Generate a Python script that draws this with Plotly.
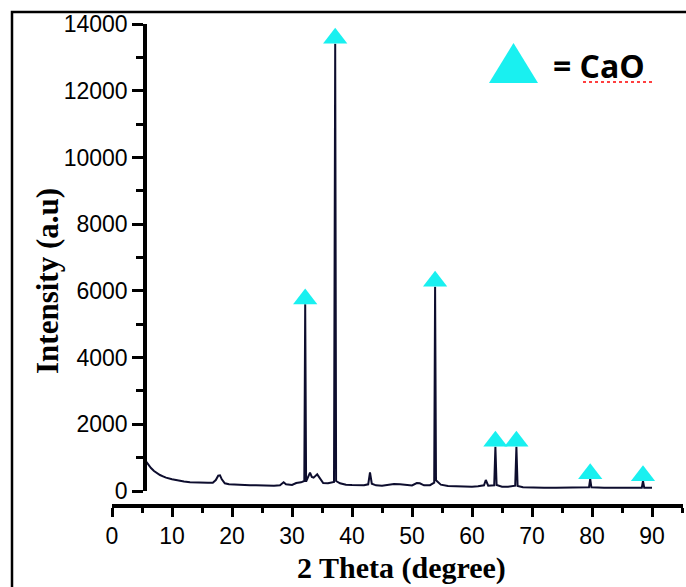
import plotly.graph_objects as go

W, H = 686, 587

# ---- data ----
two_theta = [5.2, 5.5, 6, 6.5, 7, 7.5, 8, 8.5, 9, 10, 11, 12, 13, 14, 15, 16,
             16.8, 17.3, 17.7, 18.0, 18.3, 18.8, 19.5, 20, 21, 22, 23, 24, 25, 26, 27, 28,
             28.6, 29, 30, 30.7, 31.5, 32.05, 32.2, 32.35, 32.8, 33.0, 33.3, 33.6, 34.2, 34.6,
             35.2, 36, 37.0, 37.2, 37.35, 38, 39, 40, 41, 42, 42.7, 43.0, 43.3, 44, 45, 46,
             47, 48, 49, 50, 50.8, 51.3, 52, 53, 53.7, 53.85, 54.0, 54.8, 56, 57, 58, 59, 60,
             61, 62.0, 62.3, 62.7, 63.7, 63.9, 64.1, 65, 66, 67.2, 67.4, 67.6, 68.5, 70, 72,
             74, 76, 78, 79.5, 79.7, 79.9, 82, 84, 86, 88.3, 88.5, 88.7, 90]
intensity = [1000, 920, 800, 690, 600, 530, 480, 440, 400, 350, 310, 285, 265, 255, 250, 245,
             250, 330, 460, 470, 350, 230, 200, 195, 180, 190, 170, 175, 165, 170, 160, 175,
             260, 200, 180, 240, 260, 300, 5600, 280, 450, 550, 420, 400, 500, 380,
             240, 230, 270, 13420, 300, 230, 190, 180, 170, 175, 200, 560, 220, 170, 160, 180,
             210, 200, 175, 165, 240, 230, 170, 175, 250, 6130, 320, 190, 150, 140, 140, 130, 130,
             140, 170, 330, 160, 170, 1330, 180, 130, 130, 160, 1330, 150, 110, 100, 100,
             100, 100, 100, 110, 360, 110, 95, 95, 95, 100, 300, 100, 95]

# CaO reflections (2 theta, peak top intensity)
cao_x = [32.2, 37.2, 53.85, 63.9, 67.4, 79.7, 88.5]
cao_y = [5600, 13420, 6130, 1330, 1330, 360, 300]

x_ticks = [0, 10, 20, 30, 40, 50, 60, 70, 80, 90]
x_labels = ["0", "10", "20", "30", "40", "50", "60", "70", "80", "90"]
y_ticks = [0, 2000, 4000, 6000, 8000, 10000, 12000, 14000]
y_labels = ["0", "2000", "4000", "6000", "8000", "10000", "12000", "14000"]


def px(x):
    return x / W


def py(y):
    return 1 - y / H


MARK_OFFSET = 160  # lift triangle so its base sits on the peak top
CYAN = "#19F0F0"

fig = go.Figure()
fig.add_trace(go.Scatter(x=two_theta, y=intensity, mode="lines",
                         line=dict(color="#0d0d2e", width=2), cliponaxis=False,
                         showlegend=False))
fig.add_trace(go.Scatter(x=cao_x, y=[v + MARK_OFFSET for v in cao_y], mode="markers",
                         marker=dict(symbol="triangle-up", size=21, color=CYAN,
                                     line=dict(width=0)),
                         cliponaxis=False, showlegend=False))

tickfont = dict(family="Liberation Sans", size=23, color="black")

fig.update_layout(
    width=W, height=H,
    margin=dict(l=0, r=0, t=0, b=0, autoexpand=False),
    paper_bgcolor="white", plot_bgcolor="white",
    xaxis=dict(domain=[px(112), px(683)], range=[0, 571 / 6], anchor="free",
               position=py(506), showgrid=False, zeroline=False, automargin=False,
               showline=True, linecolor="black", linewidth=3.5,
               tickmode="array", tickvals=x_ticks, ticktext=x_labels, ticks="outside",
               ticklen=9, tickwidth=3, tickcolor="black", tickfont=tickfont,
               minor=dict(dtick=5, tick0=0, ticks="outside", ticklen=5, tickwidth=3,
                          tickcolor="black", showgrid=False)),
    yaxis=dict(domain=[py(491), py(24.3)], range=[0, 14000], anchor="free",
               position=px(145), showgrid=False, zeroline=False, automargin=False,
               showline=True, linecolor="black", linewidth=3.5,
               tickmode="array", tickvals=y_ticks, ticktext=y_labels, ticks="outside",
               ticklen=11, tickwidth=3, tickcolor="black", tickfont=tickfont,
               minor=dict(dtick=1000, tick0=0, ticks="outside", ticklen=7, tickwidth=3,
                          tickcolor="black", showgrid=False)),
    shapes=[
        dict(type="rect", xref="paper", yref="paper", x0=px(12), x1=1.02,
             y0=-0.02, y1=py(12), line=dict(color="black", width=2.5),
             fillcolor="rgba(0,0,0,0)", layer="below"),
        dict(type="path", xref="paper", yref="paper",
             path=f"M {px(489)} {py(83)} L {px(538)} {py(83)} L {px(513.5)} {py(43)} Z",
             fillcolor=CYAN, line=dict(width=0)),
        dict(type="line", xref="paper", yref="paper", x0=px(583), x1=px(653),
             y0=py(82), y1=py(82), line=dict(color="red", width=1.5, dash="dot")),
    ],
    annotations=[
        dict(text="<b>Intensity (a.u)</b>", textangle=-90, xref="paper", yref="paper",
             x=px(47), y=py(281), showarrow=False, xanchor="center", yanchor="middle",
             font=dict(family="Liberation Serif", size=31, color="black")),
        dict(text="<b>2 Theta (degree)</b>", xref="paper", yref="paper",
             x=px(401), y=py(568), showarrow=False, xanchor="center", yanchor="middle",
             font=dict(family="Liberation Serif", size=30, color="black")),
        dict(text="<b>= CaO</b>", xref="paper", yref="paper",
             x=px(551), y=py(66), showarrow=False, xanchor="left", yanchor="middle",
             font=dict(family="Open Sans", size=32, color="black")),
    ],
)

fig.write_html("out.html", config={"displayModeBar": False},
               post_script="document.body.style.margin='0';document.body.style.padding='0';")
